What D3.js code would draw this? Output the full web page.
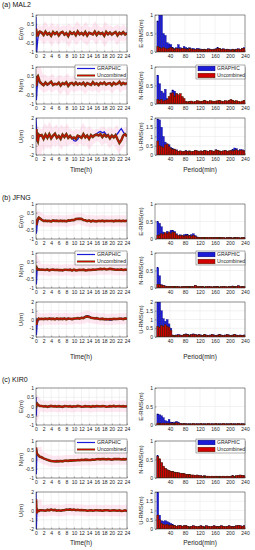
<!DOCTYPE html>
<html>
<head>
<meta charset="utf-8">
<script src="https://cdn.jsdelivr.net/npm/d3@7"></script>
<style>
body { margin: 0; background: #fff; }
svg { display: block; font-family: "Liberation Sans", Arial, sans-serif; }
</style>
</head>
<body>
<svg width="255" height="550"></svg>
<script>
// ---- data ----
const hours = [0,0.1,0.2,0.3,0.5,0.75,1,1.5,2,2.5,3,3.5,4,4.5,5,5.5,6,6.5,7,7.5,8,8.5,9,9.5,10,10.5,11,11.5,12,12.5,13,13.5,14,14.5,15,15.5,16,16.5,17,17.5,18,18.5,19,19.5,20,20.5,21,21.5,22,22.5,23,23.5,24];
const timeTicks = [0,2,4,6,8,10,12,14,16,18,20,22,24];
const periods = [5,10,15,20,25,30,35,40,45,50,55,60,65,70,75,80,85,90,95,100,105,110,115,120,125,130,135,140,145,150,155,160,165,170,175,180,185,190,195,200,205,210,215,220,225,230,235];
const periodTicks = [40,80,120,160,200,240];
const binW = 5;
const enTicks = [-1,-0.5,0,0.5,1];
const uTicks = [-2,-1,0,1,2];
const rmsEnTicks = [0,0.5,1];
const rmsUTicks = [0,0.5,1,1.5,2];
const seriesNames = ["GRAPHIC", "Uncombined"];

// (a) MAL2 time series
const aE_g = [0.9,-0.3,-1.0,-0.7,-0.25,-0.05,0.05,
  0.02,-0.06,0.08,-0.07,0.04,-0.10,0.06,-0.05,0.08,-0.08,
  0.02,0.07,-0.08,0.04,-0.12,0.05,-0.04,0.07,-0.07,0.09,
  -0.06,0.05,-0.05,0.06,-0.09,0.06,-0.02,-0.03,0.08,-0.10,
  0.08,-0.04,0.05,-0.10,0.07,-0.06,0.07,-0.04,0.04,0.06,
  -0.08,0.06,-0.05,0.09,-0.03,0.04];
const aE_u = [0.25,0.15,0.0,-0.1,-0.1,0.05,0.1,
  0.05,-0.08,0.10,-0.05,0.02,-0.12,0.08,-0.03,0.06,-0.10,
  0.04,0.09,-0.06,0.02,-0.14,0.07,-0.02,0.05,-0.09,0.11,
  -0.04,0.03,-0.07,0.08,-0.11,0.04,0.00,-0.05,0.10,-0.08,
  0.06,-0.02,0.03,-0.12,0.09,-0.04,0.05,-0.06,0.02,0.08,
  -0.10,0.04,-0.03,0.07,-0.05,0.02];
const aN_g = [0.2,-0.8,-0.5,-0.1,0.2,0.3,0.15,
  0.12,0.05,0.15,0.02,0.10,0.18,0.04,0.11,0.07,0.14,
  0.03,0.12,0.08,0.16,0.01,0.10,0.13,0.06,0.15,0.04,
  0.11,0.08,0.14,0.02,0.12,0.09,0.05,0.16,0.07,0.11,
  0.03,0.13,0.09,0.15,0.06,0.10,0.12,0.04,0.14,0.08,
  0.11,0.18,0.06,0.13,0.09,0.12];
const aN_u = [0.1,0.0,0.2,0.45,0.5,0.35,0.2,
  0.10,0.02,0.16,0.05,0.12,0.20,0.03,0.09,0.06,0.15,
  0.00,0.13,0.07,0.17,-0.02,0.11,0.14,0.04,0.16,0.05,
  0.12,0.06,0.15,0.01,0.13,0.08,0.03,0.18,0.06,0.12,
  0.02,0.14,0.08,0.16,0.05,0.11,0.13,0.02,0.15,0.07,
  0.10,0.20,0.05,0.14,0.08,0.13];
const aU_g = [2.0,1.2,0.2,-0.6,-0.3,0.1,0.0,
  0.1,-0.2,0.15,-0.1,0.2,-0.15,0.05,0.25,-0.1,0.1,
  -0.2,0.15,0.0,0.2,-0.1,0.1,-0.15,-0.45,-0.5,-0.3,
  0.05,-0.1,0.2,-0.05,0.15,-0.2,0.1,0.0,0.2,0.3,
  0.45,0.55,0.4,0.5,0.2,0.1,-0.1,0.15,-0.05,0.1,
  0.3,0.6,0.85,0.5,0.2,0.1];
const aU_u = [0.6,0.8,0.3,-0.3,-0.5,0.2,0.1,
  0.15,-0.25,0.2,-0.15,0.25,-0.2,0.1,0.3,-0.15,0.05,
  -0.25,0.2,-0.05,0.25,-0.15,0.05,-0.2,-0.1,-0.25,0.1,
  0.0,-0.15,0.25,-0.1,0.1,-0.25,0.15,-0.05,0.15,0.2,
  0.1,0.25,-0.05,0.2,0.0,0.15,-0.2,0.1,-0.1,0.15,
  -0.3,-0.7,-0.4,0.1,0.25,0.0];

// (b) JFNG time series
const bE_g = [-0.1,-0.7,-0.5,-0.2,0.0,0.15,0.15,
  0.12,0.05,0.02,0.06,0.0,0.04,0.03,0.07,0.01,0.05,
  0.02,0.06,0.0,0.04,0.03,0.08,0.05,0.1,0.12,0.16,
  0.18,0.14,0.1,0.06,0.03,0.05,0.01,0.04,0.0,0.03,
  0.05,0.01,0.04,0.0,0.03,0.06,0.02,0.05,0.0,0.04,
  0.02,0.06,0.01,0.04,0.03,0.05];
const bE_u = [0.1,-0.2,-0.1,0.05,0.15,0.22,0.18,
  0.1,0.03,0.05,0.02,0.04,0.0,0.06,0.03,0.05,0.02,
  0.05,0.02,0.04,0.01,0.06,0.05,0.08,0.08,0.14,0.15,
  0.16,0.15,0.08,0.07,0.02,0.06,0.0,0.05,0.02,0.01,
  0.04,0.02,0.05,0.01,0.04,0.03,0.03,0.04,0.01,0.05,
  0.03,0.05,0.02,0.05,0.02,0.06];
const bN_g = [0.1,-0.8,-0.4,0.1,0.05,0.08,0.05,
  0.04,0.06,0.02,0.05,0.0,0.03,0.06,0.02,0.05,0.01,
  0.04,0.0,0.03,0.05,0.02,0.06,0.01,0.04,0.0,0.03,
  0.05,0.02,0.04,0.0,0.03,0.05,0.02,0.06,0.03,0.05,
  0.08,0.1,0.06,0.09,0.05,0.08,0.12,0.07,0.09,0.05,
  0.06,0.03,0.05,0.02,0.04,0.03];
const bN_u = [0.05,0.1,0.15,0.1,0.05,0.06,0.04,
  0.05,0.04,0.03,0.06,0.01,0.04,0.05,0.03,0.04,0.02,
  0.03,0.01,0.04,0.04,0.03,0.05,0.0,0.05,0.01,0.02,
  0.04,0.03,0.05,0.01,0.02,0.04,0.03,0.05,0.04,0.06,
  0.07,0.09,0.07,0.1,0.06,0.07,0.1,0.08,0.06,0.04,
  0.05,0.04,0.06,0.03,0.05,0.04];
const bU_g = [0.2,-1.8,-1.2,-0.5,-0.2,0.0,0.05,
  0.05,0.1,0.0,0.12,0.05,0.15,0.02,0.08,0.1,0.0,
  0.08,0.12,0.03,0.1,0.15,0.05,0.0,0.12,0.08,0.2,
  0.15,0.25,0.2,0.35,0.45,0.4,0.25,0.15,0.2,0.1,
  0.05,0.12,0.0,0.08,-0.05,0.1,-0.1,-0.05,0.05,0.0,
  0.1,0.05,0.15,0.0,0.1,0.12];
const bU_u = [0.0,-0.6,-0.4,-0.1,0.0,0.1,0.05,
  0.08,0.05,0.1,0.03,0.12,0.05,0.1,0.02,0.12,0.05,
  0.1,0.05,0.12,0.02,0.1,0.08,0.05,0.1,0.12,0.15,
  0.1,0.2,0.15,0.3,0.35,0.3,0.2,0.18,0.12,0.15,
  0.08,0.05,0.1,0.02,0.05,0.0,0.05,0.02,0.08,0.05,
  0.05,0.1,0.08,0.05,0.12,0.08];

// (c) KIR0 time series
const cE_g = [0.5,-0.5,0.2,0.15,0.1,0.05,0.02,
  0.02,-0.01,0.03,0.0,-0.02,0.01,0.03,-0.01,0.02,0.0,
  -0.02,0.01,0.0,0.02,-0.01,0.03,0.0,0.02,-0.02,0.01,
  0.03,0.0,-0.02,0.01,0.02,-0.01,0.0,0.03,-0.02,0.01,
  0.0,0.02,-0.01,0.03,0.01,-0.02,0.0,0.02,0.01,-0.01,
  0.02,0.0,0.03,-0.01,0.01,0.0];
const cE_u = [0.1,0.05,0.12,0.15,0.1,0.06,0.03,
  0.03,0.0,0.02,-0.02,0.01,0.03,0.0,0.02,-0.01,0.02,
  0.0,-0.02,0.02,0.01,0.0,0.02,-0.02,0.01,0.0,0.03,
  0.01,-0.01,0.0,0.02,0.0,0.01,-0.02,0.02,0.0,0.02,
  0.01,0.0,0.02,0.01,-0.01,0.0,0.02,0.0,0.03,0.0,
  0.01,0.02,0.0,0.02,0.0,0.01];
const cN_g = [0.6,-0.8,0.3,0.35,0.25,0.2,0.15,
  0.1,0.05,0.0,-0.03,-0.06,-0.08,-0.1,-0.09,-0.1,-0.08,
  -0.07,-0.09,-0.06,-0.08,-0.05,-0.07,-0.04,-0.06,-0.03,-0.05,
  -0.02,-0.04,-0.01,-0.03,0.0,-0.02,-0.04,-0.01,0.0,0.02,
  0.03,0.0,0.02,0.04,0.01,0.03,0.0,-0.02,0.01,0.03,
  0.02,0.04,0.01,0.03,0.0,0.02];
const cN_u = [0.65,0.5,0.35,0.3,0.25,0.2,0.15,
  0.12,0.06,0.02,-0.02,-0.05,-0.08,-0.09,-0.11,-0.09,-0.1,
  -0.08,-0.1,-0.07,-0.06,-0.08,-0.05,-0.06,-0.04,-0.05,-0.03,
  -0.04,-0.02,-0.03,-0.01,-0.02,-0.03,-0.02,0.0,-0.01,0.01,
  0.02,0.01,0.03,0.02,0.0,0.02,0.01,-0.01,0.02,0.02,
  0.03,0.02,0.0,0.02,0.01,0.03];
const cU_g = [2.0,-2.0,-0.5,0.2,0.0,-0.1,0.0,
  0.0,0.05,-0.05,0.1,0.05,0.15,0.05,0.08,0.0,0.05,
  -0.05,0.0,0.05,0.12,0.1,0.15,0.08,0.12,0.05,0.1,
  0.05,0.08,0.0,0.05,-0.05,0.02,0.05,-0.02,0.0,0.05,
  0.02,0.0,-0.05,0.03,0.05,0.0,-0.05,0.02,0.05,-0.02,
  -0.05,0.0,-0.08,-0.05,0.0,-0.1];
const cU_u = [1.2,0.3,-0.3,0.1,0.0,-0.05,0.02,
  0.02,0.0,-0.03,0.06,0.02,0.1,0.03,0.06,-0.02,0.03,
  -0.03,0.02,0.03,0.1,0.08,0.12,0.06,0.1,0.03,0.08,
  0.03,0.06,0.02,0.03,-0.03,0.0,0.03,-0.02,0.02,0.03,
  0.0,0.02,-0.03,0.01,0.03,0.02,-0.03,0.0,0.03,0.0,
  -0.03,0.02,-0.05,-0.03,0.02,-0.06];

// RMS per period bin
const aEr_g = [0.84,1.0,1.0,0.5,0.45,0.25,0.22,0.2,0.12,0.1,
  0.12,0.2,0.12,0.1,0.15,0.12,0.1,0.12,0.09,0.1,
  0.08,0.1,0.09,0.08,0.07,0.08,0.07,0.09,0.08,0.07,
  0.08,0.09,0.12,0.1,0.08,0.09,0.07,0.08,0.07,0.06,
  0.08,0.07,0.08,0.09,0.07,0.1,0.12];
const aEr_u = [0.15,0.12,0.1,0.12,0.1,0.08,0.1,0.12,0.1,0.08,
  0.1,0.09,0.08,0.1,0.09,0.08,0.07,0.09,0.08,0.07,
  0.06,0.08,0.07,0.06,0.06,0.07,0.06,0.08,0.07,0.06,
  0.07,0.08,0.1,0.09,0.07,0.08,0.06,0.07,0.06,0.05,
  0.07,0.06,0.07,0.08,0.06,0.09,0.1];
const aNr_g = [0.78,0.55,0.35,0.3,0.4,0.15,0.12,0.3,0.38,0.35,
  0.28,0.22,0.2,0.18,0.12,0.06,0.05,0.06,0.07,0.05,
  0.06,0.08,0.07,0.06,0.07,0.09,0.07,0.06,0.08,0.07,
  0.06,0.07,0.08,0.09,0.07,0.06,0.08,0.07,0.09,0.11,
  0.09,0.07,0.08,0.06,0.05,0.07,0.09];
const aNr_u = [0.12,0.1,0.12,0.08,0.1,0.12,0.2,0.28,0.3,0.22,
  0.28,0.25,0.28,0.2,0.15,0.07,0.06,0.07,0.08,0.06,
  0.07,0.09,0.08,0.07,0.08,0.1,0.08,0.07,0.09,0.08,
  0.07,0.08,0.09,0.1,0.08,0.07,0.09,0.08,0.1,0.12,
  0.1,0.08,0.09,0.07,0.06,0.08,0.1];
const aUr_g = [1.95,1.9,1.5,1.0,0.7,0.6,0.55,0.4,0.35,0.3,
  0.28,0.2,0.22,0.18,0.2,0.25,0.2,0.22,0.18,0.2,
  0.25,0.22,0.18,0.22,0.2,0.25,0.22,0.2,0.25,0.22,
  0.2,0.28,0.25,0.22,0.2,0.22,0.25,0.2,0.22,0.25,
  0.3,0.38,0.35,0.25,0.3,0.28,0.25];
const aUr_u = [0.75,0.5,0.45,0.4,0.55,0.6,0.45,0.35,0.3,0.32,
  0.25,0.2,0.22,0.18,0.2,0.22,0.2,0.22,0.18,0.2,
  0.25,0.22,0.18,0.22,0.2,0.24,0.22,0.2,0.24,0.22,
  0.2,0.27,0.25,0.22,0.2,0.22,0.24,0.2,0.22,0.24,
  0.22,0.25,0.28,0.22,0.25,0.26,0.22];

const bEr_g = [0.5,0.45,0.35,0.2,0.15,0.22,0.18,0.25,0.25,0.22,
  0.15,0.1,0.12,0.1,0.12,0.14,0.12,0.1,0.13,0.15,
  0.1,0.06,0.05,0.04,0.05,0.04,0.05,0.04,0.05,0.04,
  0.05,0.04,0.05,0.04,0.05,0.04,0.03,0.04,0.05,0.04,
  0.03,0.04,0.05,0.04,0.03,0.04,0.05];
const bEr_u = [0.1,0.12,0.15,0.14,0.18,0.15,0.2,0.15,0.2,0.18,
  0.12,0.1,0.09,0.1,0.08,0.1,0.09,0.1,0.08,0.1,
  0.07,0.05,0.05,0.04,0.05,0.04,0.05,0.04,0.05,0.04,
  0.04,0.04,0.05,0.04,0.04,0.04,0.03,0.04,0.04,0.04,
  0.03,0.04,0.04,0.04,0.03,0.04,0.04];
const bNr_g = [0.58,0.35,0.1,0.08,0.06,0.05,0.05,0.04,0.05,0.04,
  0.05,0.04,0.03,0.04,0.05,0.04,0.05,0.04,0.05,0.04,
  0.08,0.05,0.04,0.05,0.04,0.03,0.04,0.05,0.04,0.03,
  0.04,0.05,0.04,0.03,0.04,0.05,0.04,0.03,0.05,0.04,
  0.06,0.04,0.05,0.07,0.04,0.05,0.04];
const bNr_u = [0.1,0.1,0.08,0.07,0.05,0.05,0.04,0.04,0.05,0.04,
  0.04,0.04,0.03,0.04,0.04,0.04,0.04,0.04,0.04,0.04,
  0.07,0.05,0.04,0.04,0.04,0.03,0.04,0.04,0.04,0.03,
  0.04,0.04,0.04,0.03,0.04,0.04,0.04,0.03,0.04,0.04,
  0.05,0.04,0.04,0.06,0.04,0.04,0.04];
const bUr_g = [2.0,2.0,1.5,1.05,0.9,1.0,0.75,0.5,0.12,0.1,
  0.12,0.15,0.12,0.1,0.15,0.18,0.15,0.12,0.15,0.18,
  0.15,0.12,0.15,0.12,0.1,0.15,0.12,0.1,0.12,0.15,
  0.12,0.1,0.12,0.15,0.12,0.1,0.12,0.15,0.12,0.1,
  0.12,0.15,0.12,0.1,0.12,0.1,0.12];
const bUr_u = [0.6,0.55,0.65,0.6,0.7,0.6,0.55,0.38,0.1,0.09,
  0.1,0.12,0.1,0.09,0.13,0.15,0.13,0.1,0.13,0.15,
  0.13,0.1,0.13,0.1,0.09,0.13,0.1,0.09,0.1,0.13,
  0.1,0.09,0.1,0.13,0.1,0.09,0.1,0.13,0.1,0.09,
  0.1,0.13,0.1,0.09,0.1,0.09,0.1];

const cEr_g = [0.3,0.28,0.25,0.2,0.12,0.1,0.15,0.08,0.06,0.08,
  0.1,0.08,0.05,0.04,0.05,0.04,0.03,0.04,0.03,0.04,
  0.03,0.04,0.03,0.04,0.03,0.04,0.03,0.04,0.03,0.04,
  0.03,0.04,0.03,0.04,0.03,0.04,0.03,0.04,0.03,0.04,
  0.03,0.04,0.03,0.04,0.03,0.04,0.03];
const cEr_u = [0.05,0.05,0.04,0.05,0.04,0.05,0.04,0.05,0.04,0.05,
  0.06,0.05,0.04,0.03,0.04,0.03,0.03,0.03,0.03,0.04,
  0.03,0.03,0.03,0.04,0.03,0.03,0.03,0.04,0.03,0.03,
  0.03,0.04,0.03,0.03,0.03,0.04,0.03,0.03,0.03,0.04,
  0.03,0.03,0.03,0.04,0.03,0.03,0.03];
const cNr_g = [0.6,0.5,0.4,0.3,0.25,0.22,0.2,0.18,0.17,0.16,
  0.15,0.14,0.13,0.12,0.12,0.1,0.1,0.09,0.08,0.08,
  0.07,0.08,0.06,0.06,0.05,0.06,0.05,0.05,0.04,0.05,
  0.04,0.05,0.04,0.05,0.04,0.05,0.04,0.05,0.04,0.05,
  0.06,0.05,0.06,0.07,0.08,0.07,0.06];
const cNr_u = [0.58,0.52,0.42,0.32,0.26,0.22,0.2,0.18,0.17,0.16,
  0.15,0.14,0.13,0.12,0.12,0.1,0.1,0.09,0.08,0.08,
  0.07,0.08,0.06,0.06,0.05,0.06,0.05,0.05,0.04,0.05,
  0.04,0.05,0.04,0.05,0.04,0.05,0.04,0.05,0.04,0.05,
  0.06,0.05,0.06,0.07,0.08,0.07,0.06];
const cUr_g = [2.0,0.75,0.45,0.42,0.45,0.4,0.35,0.3,0.25,0.2,
  0.15,0.18,0.2,0.15,0.18,0.2,0.15,0.12,0.15,0.18,
  0.15,0.12,0.15,0.18,0.15,0.12,0.18,0.15,0.12,0.15,
  0.18,0.15,0.12,0.15,0.18,0.15,0.12,0.15,0.18,0.15,
  0.12,0.15,0.18,0.2,0.18,0.15,0.18];
const cUr_u = [0.75,0.5,0.3,0.25,0.22,0.25,0.2,0.22,0.2,0.18,
  0.15,0.17,0.19,0.15,0.17,0.19,0.15,0.12,0.14,0.17,
  0.15,0.12,0.14,0.17,0.15,0.12,0.17,0.15,0.12,0.14,
  0.17,0.15,0.12,0.14,0.17,0.15,0.12,0.14,0.17,0.15,
  0.12,0.14,0.17,0.19,0.17,0.14,0.17];

// ---- layout ----
const svg = d3.select("svg");
const blue = "#1c1cd8", red = "#e00000", brown = "#6b3c0c";
const xTime = d3.scaleLinear().domain([0, 24]).range([36, 127]);
const xPer = d3.scaleLinear().domain([0, 240]).range([155, 245]);

const stations = [
  { title: "(a) MAL2", ty: 5, tops: [15, 67, 118], h: 37, lab: 170,
    ts: [[aE_g, aE_u], [aN_g, aN_u], [aU_g, aU_u]],
    rms: [[aEr_g, aEr_u], [aNr_g, aNr_u], [aUr_g, aUr_u]] },
  { title: "(b) JFNG", ty: 198, tops: [204, 253, 302], h: 35, lab: 357,
    ts: [[bE_g, bE_u], [bN_g, bN_u], [bU_g, bU_u]],
    rms: [[bEr_g, bEr_u], [bNr_g, bNr_u], [bUr_g, bUr_u]] },
  { title: "(c) KIR0", ty: 380, tops: [388, 441, 492], h: 37, lab: 543,
    ts: [[cE_g, cE_u], [cN_g, cN_u], [cU_g, cU_u]],
    rms: [[cEr_g, cEr_u], [cNr_g, cNr_u], [cUr_g, cUr_u]] }
];
const comps = ["E", "N", "U"];

let clipN = 0;
function frame(xs, top, h, yDom, yT, xT, ylab, labX) {
  const ys = d3.scaleLinear().domain(yDom).range([top + h, top]);
  const [x0, x1] = xs.range();
  const g = svg.append("g");
  g.selectAll("line.gx").data(xT).join("line").attr("class", "gx")
    .attr("x1", d => xs(d)).attr("x2", d => xs(d)).attr("y1", top).attr("y2", top + h)
    .attr("stroke", "#e4e4e4").attr("stroke-width", 0.5);
  g.selectAll("line.gy").data(yT).join("line").attr("class", "gy")
    .attr("x1", x0).attr("x2", x1).attr("y1", d => ys(d)).attr("y2", d => ys(d))
    .attr("stroke", "#e4e4e4").attr("stroke-width", 0.5);
  const id = "clip" + (clipN++);
  svg.append("clipPath").attr("id", id).append("rect")
    .attr("x", x0).attr("y", top).attr("width", x1 - x0).attr("height", h);
  const data = svg.append("g").attr("clip-path", `url(#${id})`);

  function finish() {
    const ax = svg.append("g").attr("transform", `translate(0,${top + h})`)
      .call(d3.axisBottom(xs).tickValues(xT).tickFormat(d => d)
        .tickSizeInner(-1.5).tickSizeOuter(0).tickPadding(2));
    const ay = svg.append("g").attr("transform", `translate(${x0},0)`)
      .call(d3.axisLeft(ys).tickValues(yT).tickFormat(d => String(d))
        .tickSizeInner(-1.5).tickSizeOuter(0).tickPadding(2));
    [ax, ay].forEach(a => {
      a.select(".domain").remove();
      a.selectAll("line").attr("stroke", "#333").attr("stroke-width", 0.4);
      a.selectAll("text").attr("font-size", 5).attr("fill", "#222")
        .attr("font-family", "Liberation Sans, Arial, sans-serif");
    });
    svg.append("rect").attr("x", x0).attr("y", top).attr("width", x1 - x0).attr("height", h)
      .attr("fill", "none").attr("stroke", "#333").attr("stroke-width", 0.5);
    svg.append("text").attr("transform", `translate(${labX},${top + h / 2}) rotate(-90)`)
      .attr("text-anchor", "middle").attr("dy", "0.35em")
      .attr("font-size", 6).attr("fill", "#222").text(ylab);
  }
  return { ys, data, finish };
}

const line = ys => d3.line().x((d, i) => xTime(hours[i])).y(d => ys(d));

stations.forEach(st => {
  svg.append("text").attr("x", 2).attr("y", st.ty).attr("dy", "0.35em")
    .attr("font-size", 7).attr("fill", "#111").text(st.title);

  comps.forEach((c, k) => {
    const top = st.tops[k];
    // time series
    const isU = c === "U";
    const f = frame(xTime, top, st.h, isU ? [-2, 2] : [-1, 1], isU ? uTicks : enTicks,
      timeTicks, c + "(m)", 21);
    const [g, u] = st.ts[k];
    f.data.append("path").datum(u).attr("d", line(f.ys)).attr("fill", "none")
      .attr("stroke", "#ff7ab8").attr("stroke-opacity", 0.18).attr("stroke-width", 11);
    f.data.append("path").datum(g).attr("d", line(f.ys)).attr("fill", "none")
      .attr("stroke", blue).attr("stroke-width", 1.3);
    f.data.append("path").datum(u).attr("d", line(f.ys)).attr("fill", "none")
      .attr("stroke", brown).attr("stroke-width", 2.6);
    f.data.append("path").datum(u).attr("d", line(f.ys)).attr("fill", "none")
      .attr("stroke", red).attr("stroke-width", 1.0);
    f.finish();

    // RMS bars
    const r = frame(xPer, top, st.h, isU ? [0, 2] : [0, 1], isU ? rmsUTicks : rmsEnTicks,
      periodTicks, c + "-RMS(m)", 141);
    const [rg, ru] = st.rms[k];
    const bw = xPer(binW) - xPer(0);
    r.data.selectAll("rect.g").data(rg).join("rect").attr("class", "g")
      .attr("x", (d, i) => xPer(periods[i])).attr("width", bw)
      .attr("y", d => r.ys(d)).attr("height", d => r.ys(0) - r.ys(d))
      .attr("fill", blue).attr("stroke", "#000070").attr("stroke-width", 0.3);
    r.data.selectAll("rect.u").data(ru).join("rect").attr("class", "u")
      .attr("x", (d, i) => xPer(periods[i])).attr("width", bw)
      .attr("y", d => r.ys(d)).attr("height", d => r.ys(0) - r.ys(d))
      .attr("fill", "#d20000").attr("stroke", "#4a2200").attr("stroke-width", 0.5);
    r.finish();

    if (c === "N") {
      // left legend (lines)
      const ly = top - 2;
      svg.append("rect").attr("x", 75).attr("y", ly).attr("width", 52).attr("height", 14)
        .attr("fill", "#fff").attr("stroke", "#333").attr("stroke-width", 0.4);
      seriesNames.forEach((n, j) => {
        const yy = ly + 3.5 + j * 7;
        if (j === 0) {
          svg.append("line").attr("x1", 77).attr("x2", 95).attr("y1", yy).attr("y2", yy)
            .attr("stroke", blue).attr("stroke-width", 1.2);
        } else {
          svg.append("line").attr("x1", 77).attr("x2", 95).attr("y1", yy).attr("y2", yy)
            .attr("stroke", brown).attr("stroke-width", 2);
          svg.append("line").attr("x1", 77).attr("x2", 95).attr("y1", yy).attr("y2", yy)
            .attr("stroke", red).attr("stroke-width", 0.8);
        }
        svg.append("text").attr("x", 97).attr("y", yy).attr("dy", "0.35em")
          .attr("font-size", 5.2).attr("fill", "#222").text(n);
      });
      // right legend (patches)
      svg.append("rect").attr("x", 196).attr("y", ly).attr("width", 49).attr("height", 14)
        .attr("fill", "#fff").attr("stroke", "#333").attr("stroke-width", 0.4);
      seriesNames.forEach((n, j) => {
        const yy = ly + 3.5 + j * 7;
        svg.append("rect").attr("x", 198).attr("y", yy - 2.3).attr("width", 17).attr("height", 4.6)
          .attr("fill", j === 0 ? blue : "#d20000")
          .attr("stroke", j === 0 ? "#000070" : "#4a2200").attr("stroke-width", 0.5);
        svg.append("text").attr("x", 217).attr("y", yy).attr("dy", "0.35em")
          .attr("font-size", 5).attr("fill", "#222").text(n);
      });
    }
  });

  svg.append("text").attr("x", 81).attr("y", st.lab).attr("dy", "0.35em")
    .attr("text-anchor", "middle").attr("font-size", 6.5).attr("fill", "#222").text("Time(h)");
  svg.append("text").attr("x", 200).attr("y", st.lab).attr("dy", "0.35em")
    .attr("text-anchor", "middle").attr("font-size", 6.5).attr("fill", "#222").text("Period(min)");
});
</script>
</body>
</html>
